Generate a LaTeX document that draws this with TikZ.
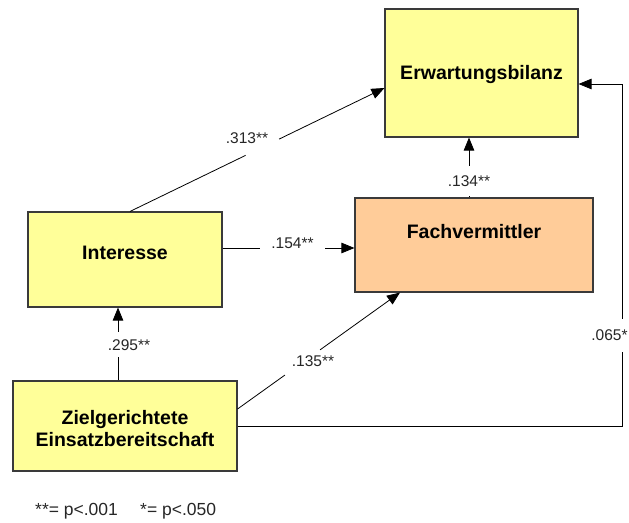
\documentclass[tikz,border=0pt]{standalone}
\usepackage{fontspec}
\setmainfont{Liberation Sans}
\usetikzlibrary{arrows.meta,calc}

\definecolor{boxyellow}{HTML}{FFFF99}
\definecolor{boxpeach}{HTML}{FFCC99}
\definecolor{boxline}{HTML}{3A3A3A}

\tikzset{
  varbox/.style={draw=boxline, line width=1.1pt, inner sep=0pt},
  boxtext/.style={font=\fontsize{19.5}{23}\selectfont\bfseries, align=center, inner sep=0pt},
  path/.style={draw=black, line width=0.8pt},
  arr/.style={path, -{Triangle[length=13pt,width=10.5pt]}},
  coef/.style={font=\fontsize{15.5}{18}\selectfont, text=black!85, inner sep=1pt},
  gapfill/.style={fill=white, inner sep=0pt},
}

\begin{document}
\begin{tikzpicture}[x=1pt,y=-1pt]
\useasboundingbox (0,0) rectangle (629,522);

% variables
\node[varbox, fill=boxyellow, minimum width=193pt, minimum height=128pt] (erw) at (481.5,73) {};
\node[boxtext] (erwtext) at (481.5,74) {Erwartungsbilanz};

\node[varbox, fill=boxpeach, minimum width=238pt, minimum height=94pt] (fach) at (474,245) {};
\node[boxtext] (fachtext) at (474,232) {Fachvermittler};

\node[varbox, fill=boxyellow, minimum width=194pt, minimum height=95pt] (int) at (125,259.5) {};
\node[boxtext] (inttext) at (125,253) {Interesse};

\node[varbox, fill=boxyellow, minimum width=224pt, minimum height=90pt] (ziel) at (125,426) {};
\node[boxtext] (zieltext) at (125,428.5) {Zielgerichtete\\[-0.5pt]Einsatzbereitschaft};

% paths
\draw[arr] ([xshift=5pt]int.north) -- node[gapfill, sloped, pos=0.52, minimum width=37pt, minimum height=6pt] (g313) {} ([yshift=-15pt]erw.west);
\node[coef] (c313) at (247,138) {.313**};

\draw[arr] ([yshift=11.5pt]int.east) -- node[coef, fill=white, pos=0.53, minimum width=65pt, yshift=5pt] (c154) {.154**} ([yshift=-3pt]fach.west);

\draw[arr] ([xshift=-7pt]ziel.north) -- node[coef, fill=white, pos=0.49, minimum height=25pt, xshift=11pt] (c295) {.295**} ([xshift=-7pt]int.south);

\draw[arr] ([yshift=17pt]ziel.east) -- node[gapfill, sloped, pos=0.40, minimum width=43pt, minimum height=6pt] (g135) {} ([xshift=-74pt]fach.south);
\node[coef] (c135) at (313,361) {.135**};

\draw[arr] ([xshift=-5pt]fach.north) -- node[coef, fill=white, pos=0.28, minimum height=30pt] (c134) {.134**} ([xshift=-5pt]fach.north |- erw.south);

\coordinate (bendlow) at (622,426);
\coordinate (bendhigh) at (622,84);
\draw[arr] (ziel.east) -- (bendlow) -- node[coef, fill=white, pos=0.266, minimum height=33pt, xshift=-12.5pt] (c065) {.065*} (bendhigh) -- (erw.east |- bendhigh);

% significance legend
\node[coef, anchor=west, font=\fontsize{17.5}{20}\selectfont] (legone) at (34,511) {**= p<.001};
\node[coef, anchor=west, font=\fontsize{17.5}{20}\selectfont] (legtwo) at (139,511) {*= p<.050};
\end{tikzpicture}
\end{document}
